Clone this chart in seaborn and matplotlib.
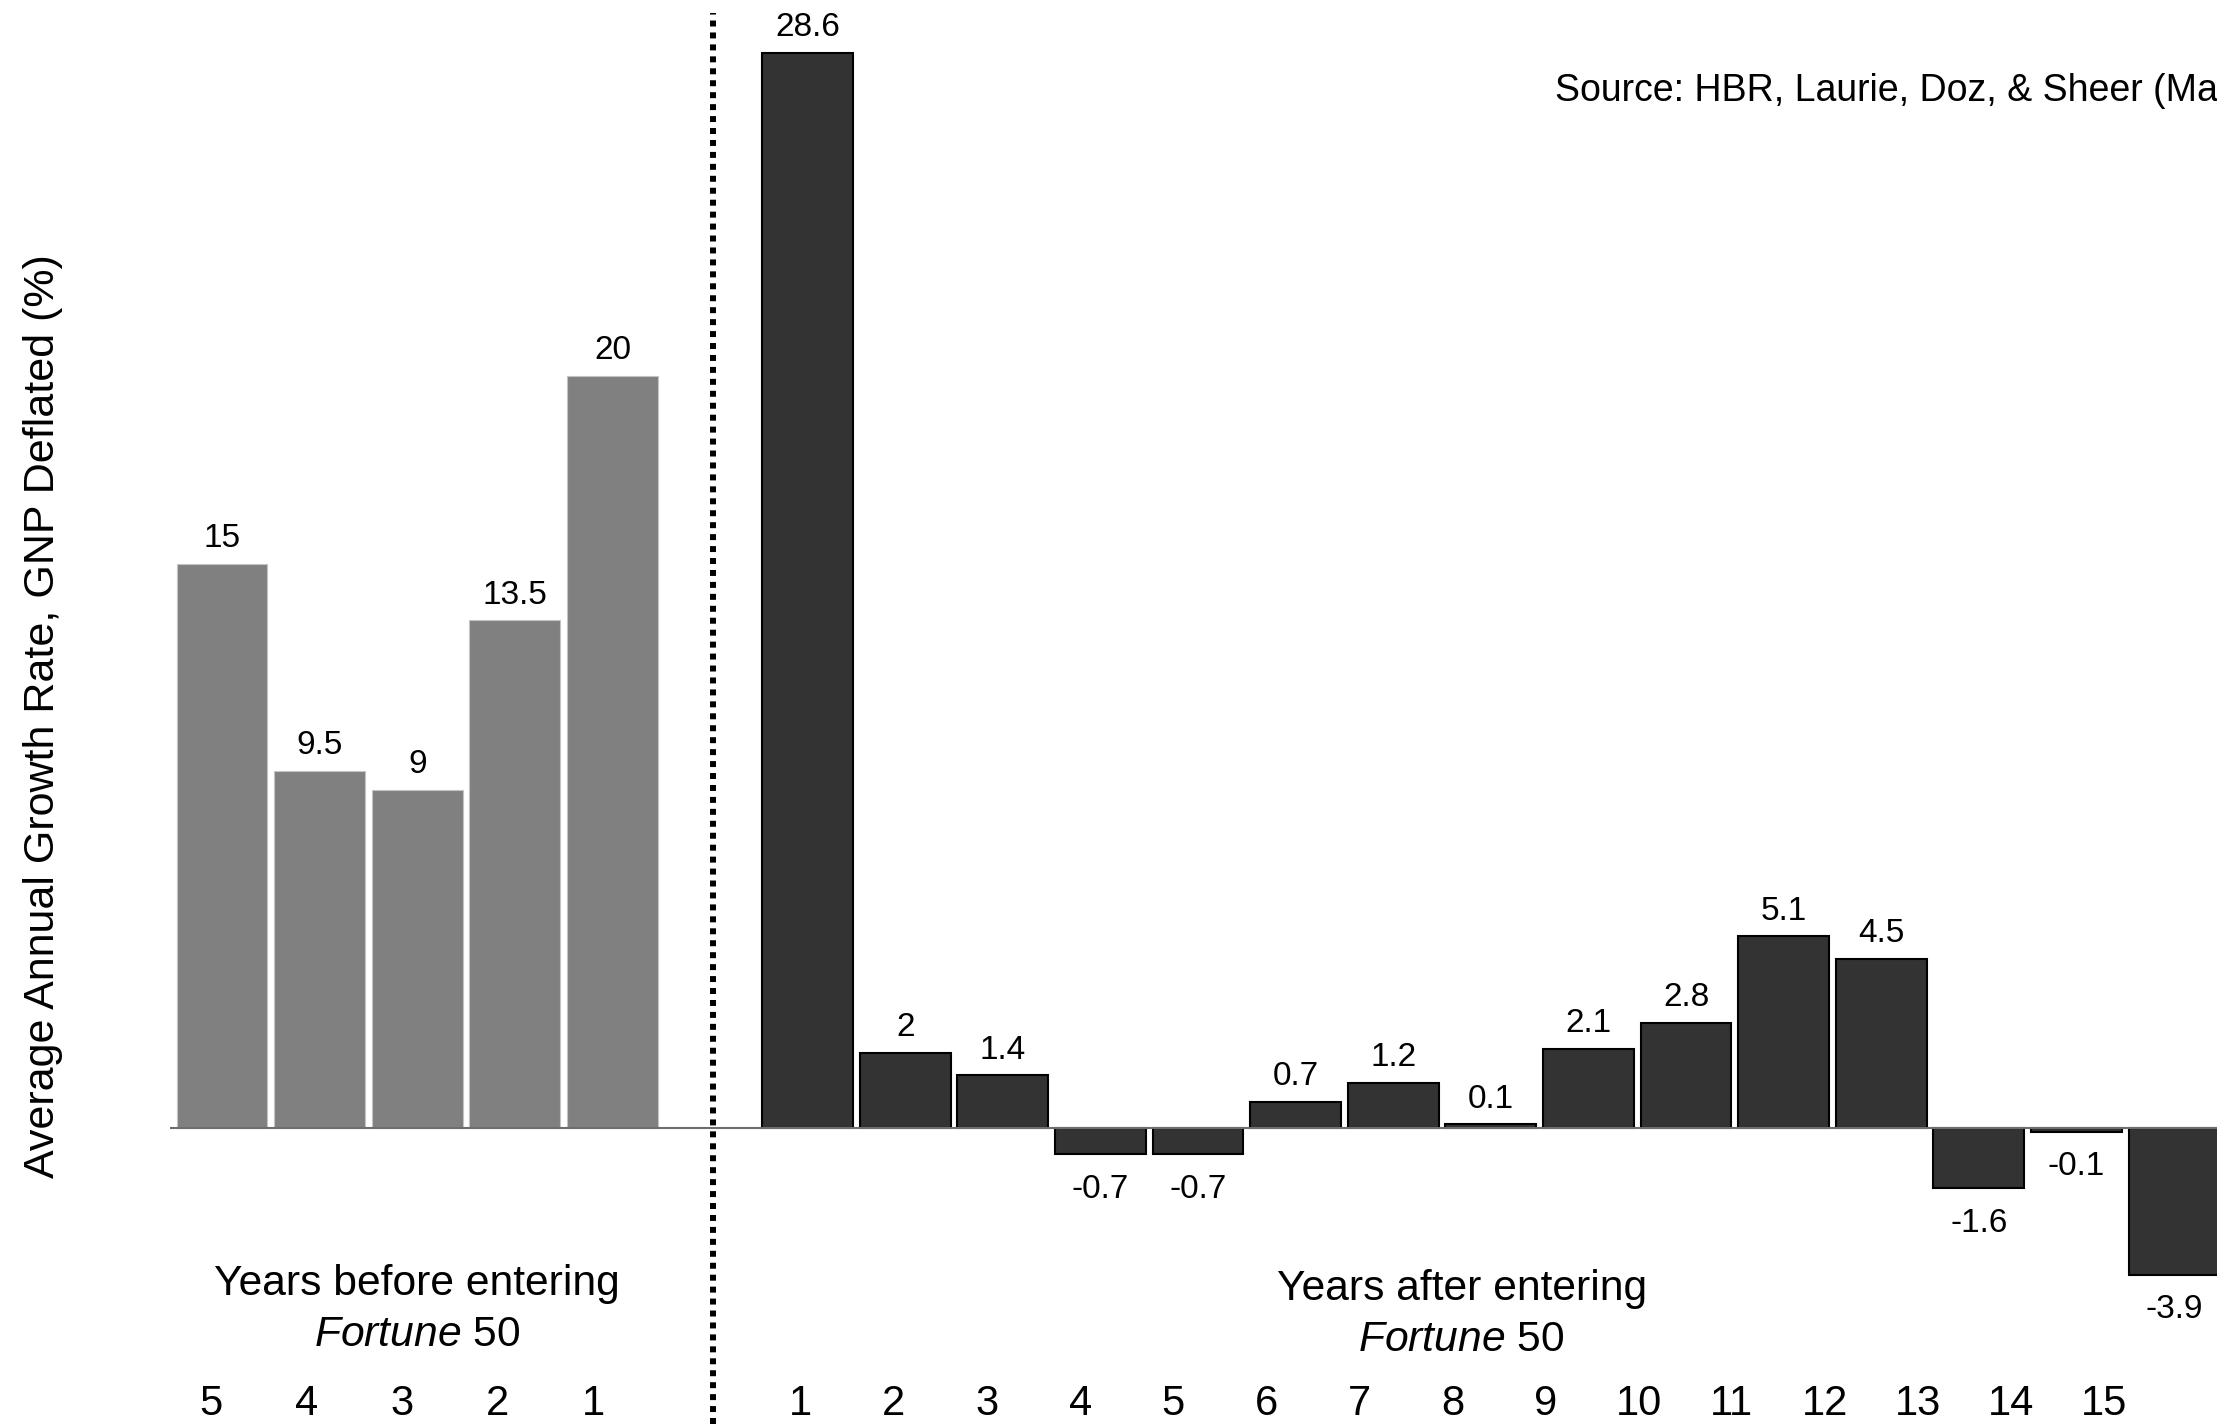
import matplotlib
matplotlib.use("Agg")
import matplotlib.pyplot as plt
import seaborn as sns
import numpy as np
import pandas as pd

# Growth rates (%) before and after entering the Fortune 50
before_labels = ["5", "4", "3", "2", "1"]
before_values = [15, 9.5, 9, 13.5, 20]
after_labels = [str(i) for i in range(1, 16)]
after_values = [28.6, 2, 1.4, -0.7, -0.7, 0.7, 1.2, 0.1, 2.1, 2.8, 5.1, 4.5, -1.6, -0.1, -3.9]

value_labels_before = ["15", "9.5", "9", "13.5", "20"]
value_labels_after = ["28.6", "2", "1.4", "-0.7", "-0.7", "0.7", "1.2", "0.1",
                      "2.1", "2.8", "5.1", "4.5", "-1.6", "-0.1", "-3.9"]

sns.set_theme(style="white")
plt.rcParams["font.family"] = ["Liberation Sans", "DejaVu Sans"]
plt.rcParams["mathtext.fontset"] = "custom"
plt.rcParams["mathtext.it"] = "Liberation Sans:italic"
plt.rcParams["mathtext.rm"] = "Liberation Sans"
plt.rcParams["text.color"] = "black"
plt.rcParams["axes.labelcolor"] = "black"

# Bar slots: before-years on 0..4, a gap slot at 5, after-years on 6..20
before_pos = np.arange(len(before_values))
after_pos = np.arange(len(after_values)) + len(before_values) + 1

df_before = pd.DataFrame({"pos": before_pos, "value": before_values})
df_after = pd.DataFrame({"pos": after_pos, "value": after_values})

fig = plt.figure(figsize=(22.17, 14.24), dpi=100)
ax = fig.add_axes([0, 0, 1, 1])

sns.barplot(data=df_before, x="pos", y="value", native_scale=True, width=0.93,
            color="#808080", saturation=1, edgecolor="#c4c4c4", linewidth=0.8,
            errorbar=None, ax=ax)
sns.barplot(data=df_after, x="pos", y="value", native_scale=True, width=0.93,
            color="#333333", saturation=1, edgecolor="#000000", linewidth=1.5,
            errorbar=None, ax=ax)

ax.set_xlim(-2.275, 20.44)
ax.set_ylim(-7.87, 30.0)
ax.set_xticks([])
ax.set_yticks([])
ax.set_xlabel("")
for s in ax.spines.values():
    s.set_visible(False)

# Zero baseline
ax.hlines(0, -0.53, 20.44, colors="#6e6e6e", linewidth=1.5, zorder=4)

# Divider between the two periods
ax.axvline(len(before_values) + 0.03, ymin=0, ymax=0.991, color="black", linewidth=4.3,
           linestyle=(0, (1, 1)), dash_capstyle="butt", zorder=5)

# Value annotations
def annotate(positions, values, labels):
    for x, v, t in zip(positions, values, labels):
        if v >= 0:
            ax.annotate(t, (x, v), xytext=(0, 7), textcoords="offset points",
                        ha="center", va="bottom", fontsize=24)
        else:
            ax.annotate(t, (x, v), xytext=(0, -14), textcoords="offset points",
                        ha="center", va="top", fontsize=24)

annotate(before_pos, before_values, value_labels_before)
annotate(after_pos, after_values, value_labels_after)

# Year labels run along their own, slightly tighter row
before_label_x = -0.11 + 0.979 * np.arange(len(before_labels))
after_label_x = 5.93 + 0.954 * np.arange(len(after_labels))
for x, t in zip(before_label_x, before_labels):
    ax.text(x, -7.34, t, ha="center", va="center", fontsize=30)
for x, t in zip(after_label_x, after_labels):
    ax.text(x, -7.34, t, ha="center", va="center", fontsize=30)

# Group captions
ax.text(before_pos.mean(), -4.15, "Years before entering", ha="center", va="center", fontsize=30.7)
ax.text(before_pos.mean(), -5.5, r"$\it{Fortune}$ 50", ha="center", va="center", fontsize=30.7)
ax.text(12.7, -4.29, "Years after entering", ha="center", va="center", fontsize=30.7)
ax.text(12.7, -5.64, r"$\it{Fortune}$ 50", ha="center", va="center", fontsize=30.7)

ax.set_ylabel("Average Annual Growth Rate, GNP Deflated (%)", fontsize=31, va="center")
ax.yaxis.set_label_coords(43 / 2217, 0.497)

fig.text(1555 / 2217, 1 - 91 / 1424, "Source: HBR, Laurie, Doz, & Sheer (May 2006)",
         ha="left", va="center", fontsize=27)

fig.savefig("out.png", dpi=100)
